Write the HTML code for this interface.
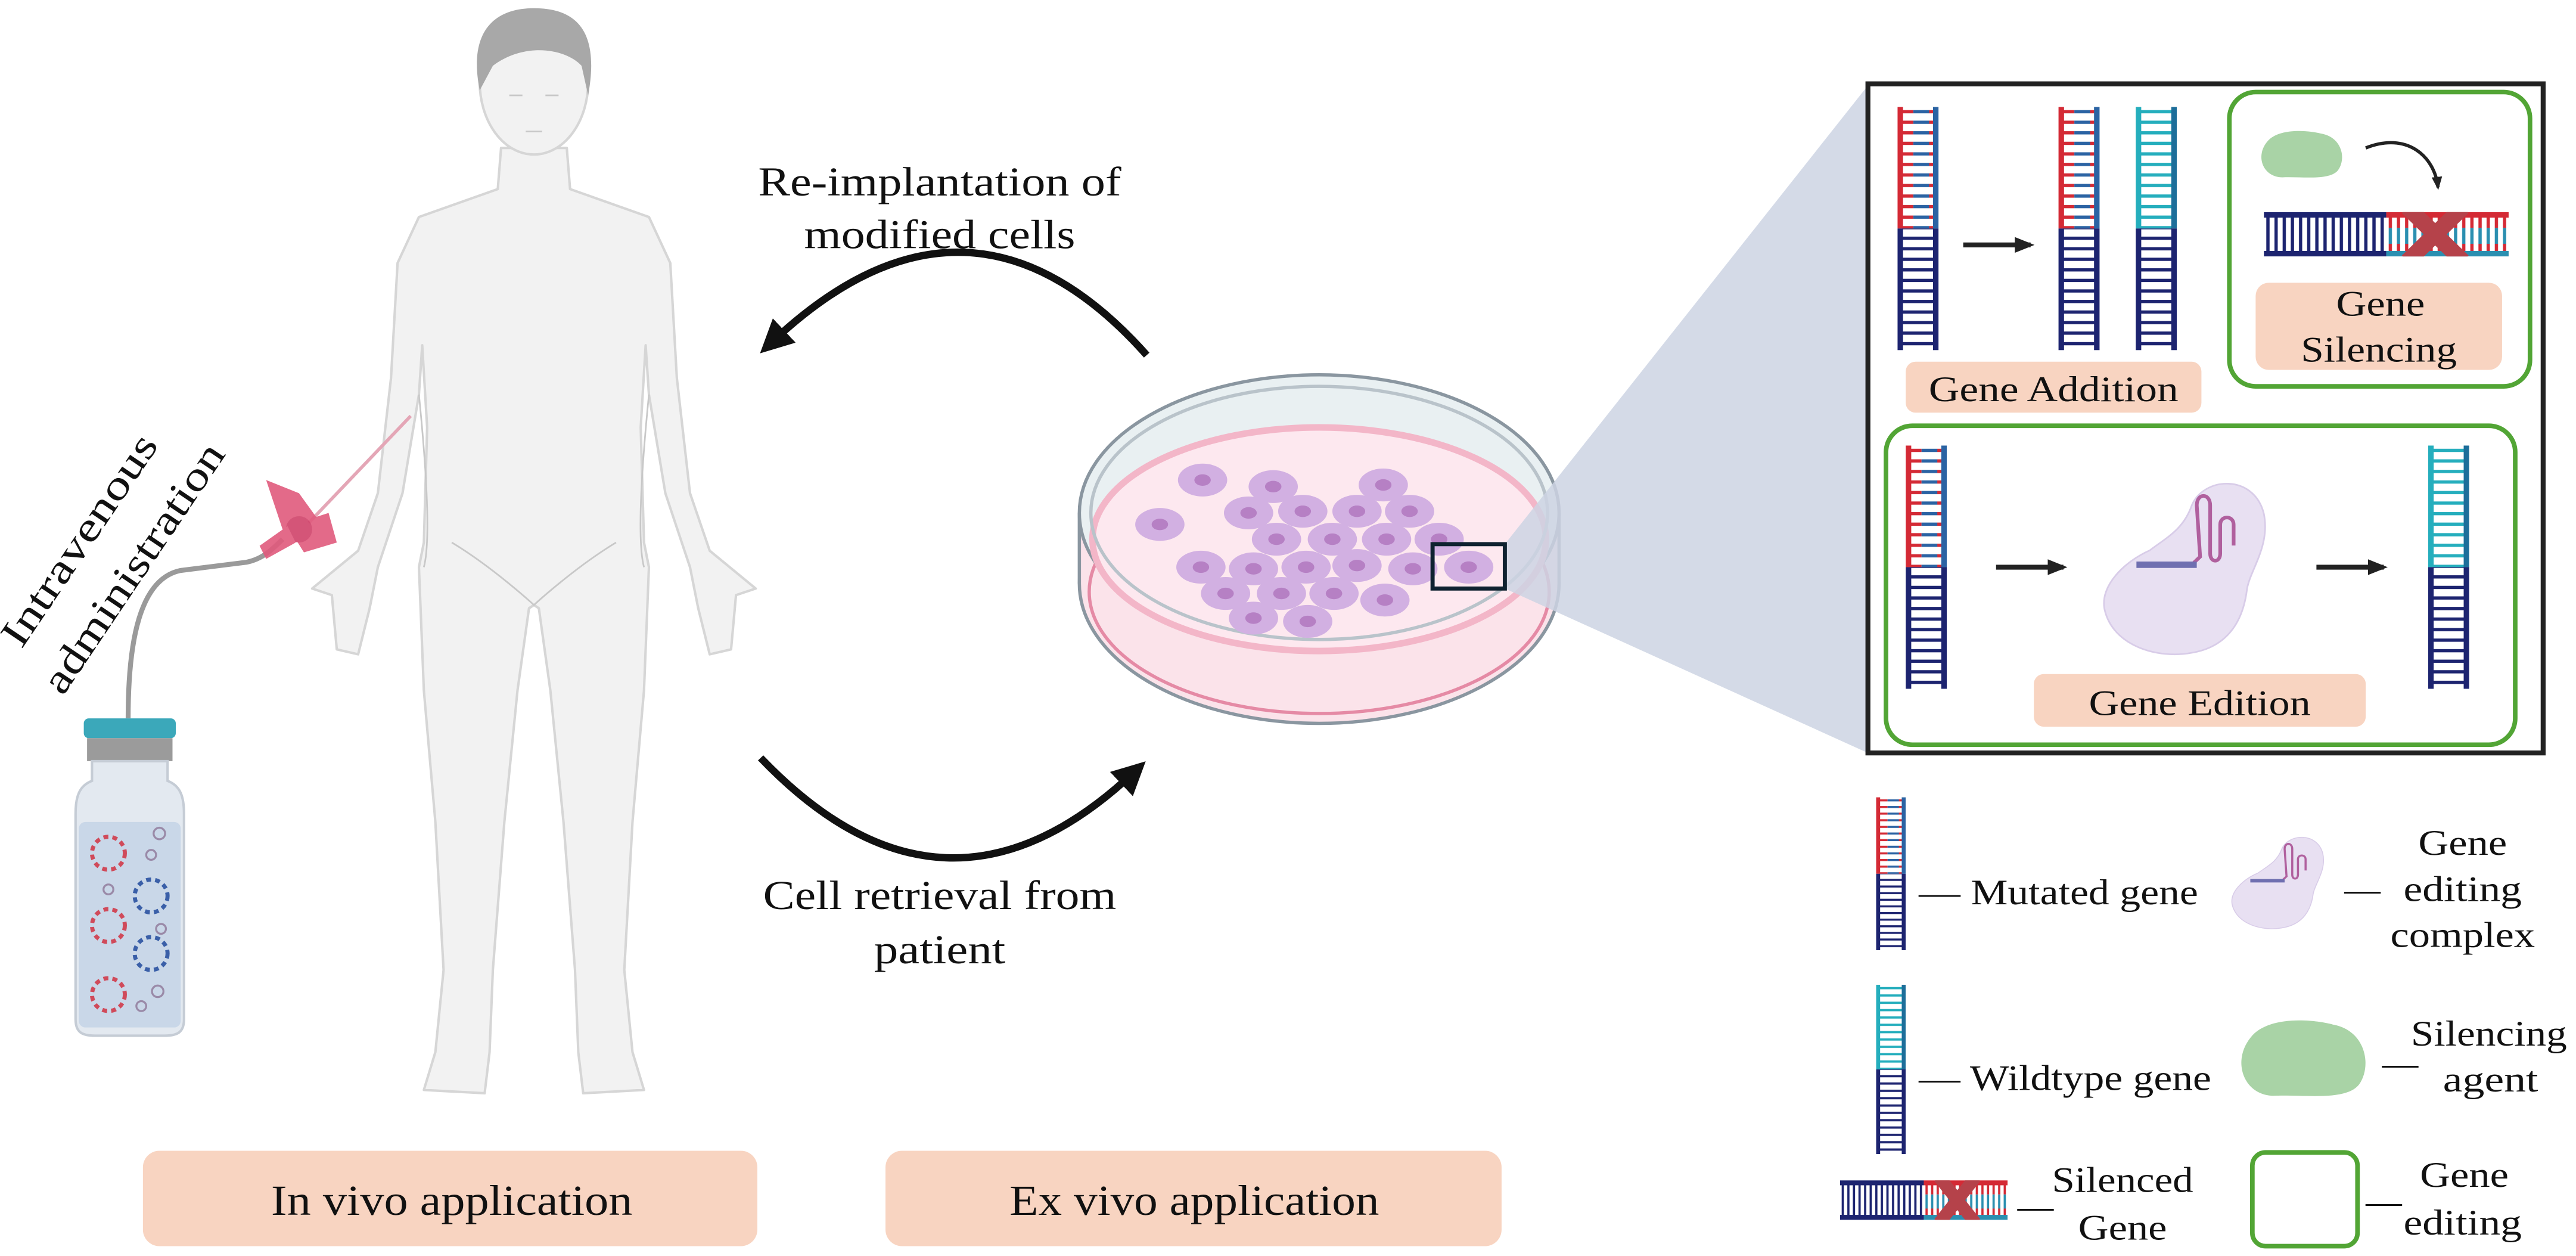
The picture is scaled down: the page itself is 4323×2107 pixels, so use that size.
<!DOCTYPE html>
<html><head><meta charset="utf-8">
<style>
html,body{margin:0;padding:0;background:#fff;}
svg{display:block;}
text{font-family:"Liberation Serif",serif;fill:#111;}
</style></head>
<body>
<svg width="4323" height="2107" viewBox="0 0 1568 764" preserveAspectRatio="none" xmlns="http://www.w3.org/2000/svg">
<defs>
  <pattern id="rR" width="20" height="6.5" patternUnits="userSpaceOnUse"><rect x="0" y="2" width="10" height="2" fill="#d42a35"/><rect x="10" y="2" width="10" height="2" fill="#2b63a3"/></pattern>
  <pattern id="rT" width="20" height="6.5" patternUnits="userSpaceOnUse"><rect x="0" y="2" width="20" height="2" fill="#25aebd"/></pattern>
  <pattern id="rN" width="20" height="6.5" patternUnits="userSpaceOnUse"><rect x="0" y="2" width="20" height="2" fill="#1d2470"/></pattern>
  <pattern id="hN" width="5" height="20" patternUnits="userSpaceOnUse"><rect x="1.5" y="0" width="2" height="20" fill="#1d2470"/></pattern>
  <pattern id="hR" width="5" height="20" patternUnits="userSpaceOnUse"><rect x="1.5" y="0" width="2" height="10" fill="#d42a35"/><rect x="1.5" y="10" width="2" height="10" fill="#2b8fb0"/></pattern>
  <symbol id="dnaM" viewBox="0 0 26 150" preserveAspectRatio="none">
    <rect x="3" y="0" width="20" height="75" fill="url(#rR)"/>
    <rect x="3" y="75" width="20" height="75" fill="url(#rN)"/>
    <rect x="0" y="0" width="3.5" height="75" fill="#d42a35"/><rect x="0" y="75" width="3.5" height="75" fill="#1d2470"/>
    <rect x="22.5" y="0" width="3.5" height="75" fill="#2b63a3"/><rect x="22.5" y="75" width="3.5" height="75" fill="#1d2470"/>
  </symbol>
  <symbol id="dnaW" viewBox="0 0 26 150" preserveAspectRatio="none">
    <rect x="3" y="0" width="20" height="75" fill="url(#rT)"/>
    <rect x="3" y="75" width="20" height="75" fill="url(#rN)"/>
    <rect x="0" y="0" width="3.5" height="75" fill="#25aebd"/><rect x="0" y="75" width="3.5" height="75" fill="#1d2470"/>
    <rect x="22.5" y="0" width="3.5" height="75" fill="#1d6e9a"/><rect x="22.5" y="75" width="3.5" height="75" fill="#1d2470"/>
  </symbol>
  <symbol id="dnaS" viewBox="0 0 150 28" preserveAspectRatio="none">
    <rect x="0" y="3" width="75" height="22" fill="url(#hN)"/>
    <rect x="75" y="3" width="75" height="22" fill="url(#hR)"/>
    <rect x="0" y="0" width="75" height="3.5" fill="#1d2470"/><rect x="75" y="0" width="75" height="3.5" fill="#d42a35"/>
    <rect x="0" y="24.5" width="75" height="3.5" fill="#1d2470"/><rect x="75" y="24.5" width="75" height="3.5" fill="#2b8fb0"/>
    <g transform="translate(105,14)"><rect x="-5" y="-24" width="10" height="48" fill="#b5424a" transform="rotate(45)"/><rect x="-5" y="-24" width="10" height="48" fill="#b5424a" transform="rotate(-45)"/></g>
  </symbol>
  <symbol id="cplx" viewBox="0 0 100 115" preserveAspectRatio="none">
    <path d="M30,48 C40,40 50,35 55,20 C62,2 92,0 98,25 C102,45 90,60 88,72 C86,90 78,108 55,112 C35,116 8,108 3,85 C0,70 15,55 30,48 Z" fill="#e8e0f2" stroke="#d8cce8" stroke-width="1"/>
    <path d="M25,57 L55,57 L60,52 L58,20 C58,12 66,12 66,20 L66,50 C66,56 72,56 72,50 L72,32 C72,26 80,26 80,32 L80,45" fill="none" stroke="#b0609e" stroke-width="2.2"/>
    <rect x="22" y="55" width="36" height="4" fill="#6f6fb0"/>
  </symbol>
  <symbol id="blob" viewBox="0 0 80 60" preserveAspectRatio="none">
    <path d="M8,15 C18,0 45,2 58,6 C78,10 82,35 74,48 C66,60 40,55 22,56 C4,56 -4,32 8,15 Z" fill="#a9d3a6"/>
  </symbol>
  <marker id="ah" viewBox="0 0 10 10" refX="5" refY="5" markerWidth="4.5" markerHeight="4.5" orient="auto-start-reverse"><path d="M0,0 L10,5 L0,10 Z" fill="#111"/></marker>
  <marker id="ah2" viewBox="0 0 10 10" refX="8" refY="5" markerWidth="4" markerHeight="4" orient="auto"><path d="M0,1 L10,5 L0,9 Z" fill="#222"/></marker>
</defs>

<!-- Human figure -->
<g stroke="#d6d6d6" stroke-width="1.5" fill="#f2f2f2" stroke-linejoin="round">
  <path d="M305,90 L303,115 L255,132 L242,160 L238,230 L230,300 L218,335 L190,358 L202,362 L205,395 L218,398 L225,370 L230,345 L245,300 L255,240 L257,210 L260,260 L258,330 L255,345 L258,420 L265,500 L270,590 L265,640 L258,663 L295,665 L298,640 L300,590 L307,500 L315,420 L322,370 L325,368 L328,370 L335,420 L343,500 L350,590 L352,640 L355,665 L392,663 L385,640 L380,590 L385,500 L392,420 L395,345 L392,330 L390,260 L393,210 L395,240 L405,300 L420,345 L425,370 L432,398 L445,395 L448,362 L460,358 L432,335 L420,300 L412,230 L408,160 L395,132 L347,115 L345,90 Z"/>
  <ellipse cx="325" cy="50" rx="33" ry="44"/>
</g>
<path d="M292,55 C285,20 300,5 325,5 C352,5 365,20 358,58 L354,40 C345,30 320,25 300,40 Z" fill="#a8a8a8"/>
<g stroke="#c8c8c8" stroke-width="1" fill="none">
  <path d="M310,58 l8,0 M332,58 l8,0 M320,80 l10,0"/>
  <path d="M255,240 C260,290 262,330 258,345 M395,240 C390,290 388,330 392,345 M275,330 C300,345 325,368 325,368 C325,368 350,345 375,330"/>
</g>

<!-- Vial -->
<path d="M78,437 C78,390 85,352 110,347 L150,342 C160,340 166,334 172,328" fill="none" stroke="#9a9a9a" stroke-width="3"/>
<line x1="188" y1="318" x2="250" y2="253" stroke="#e4a6b6" stroke-width="2"/>
<g fill="#e05a7d" opacity="0.9">
  <path d="M162,292 L182,300 L195,318 L172,322 Z"/>
  <path d="M175,320 L200,312 L205,330 L185,336 Z"/>
  <circle cx="182" cy="322" r="8" fill="#d0436a"/>
  <path d="M158,332 L175,320 L180,330 L162,340 Z"/>
</g>
<rect x="51" y="437" width="56" height="12" rx="3" fill="#3ba8ba"/>
<rect x="53" y="449" width="52" height="14" fill="#9b9b9b"/>
<path d="M56,463 L102,463 L102,475 C110,478 112,485 112,495 L112,620 C112,628 108,630 100,630 L58,630 C50,630 46,628 46,620 L46,495 C46,485 48,478 56,475 Z" fill="#e3e9f0" stroke="#c5ccd5" stroke-width="1.5"/>
<rect x="48" y="500" width="62" height="125" rx="4" fill="#c9d7e8"/>
<g fill="none" stroke-width="2.5" stroke-dasharray="3 2.5">
  <circle cx="66" cy="519" r="10" stroke="#d04a5a"/><circle cx="92" cy="545" r="10" stroke="#3a5fa8"/>
  <circle cx="66" cy="563" r="10" stroke="#d04a5a"/><circle cx="92" cy="580" r="10" stroke="#3a5fa8"/>
  <circle cx="66" cy="605" r="10" stroke="#d04a5a"/>
</g>
<g fill="none" stroke="#9a8aa8" stroke-width="1.2">
  <circle cx="97" cy="507" r="3.5"/><circle cx="92" cy="520" r="3"/><circle cx="66" cy="541" r="3"/><circle cx="98" cy="565" r="3"/><circle cx="96" cy="603" r="3.5"/><circle cx="86" cy="612" r="3"/>
</g>
<text transform="translate(55,333) rotate(-56)" font-size="25" text-anchor="middle" textLength="150" lengthAdjust="spacingAndGlyphs">Intravenous</text>
<text transform="translate(88,350) rotate(-56)" font-size="25" text-anchor="middle" textLength="178" lengthAdjust="spacingAndGlyphs">administration</text>

<!-- Arrows & texts -->
<path d="M698,216 Q590,95 470,208" fill="none" stroke="#111" stroke-width="4.5" marker-end="url(#ah)"/>
<path d="M463,461 Q575,578 690,470" fill="none" stroke="#111" stroke-width="4.5" marker-end="url(#ah)"/>
<text x="572" y="119" font-size="25" text-anchor="middle" textLength="221" lengthAdjust="spacingAndGlyphs">Re-implantation of</text>
<text x="572" y="151" font-size="25" text-anchor="middle" textLength="165" lengthAdjust="spacingAndGlyphs">modified cells</text>
<text x="572" y="553" font-size="25" text-anchor="middle" textLength="215" lengthAdjust="spacingAndGlyphs">Cell retrieval from</text>
<text x="572" y="586" font-size="25" text-anchor="middle" textLength="80" lengthAdjust="spacingAndGlyphs">patient</text>

<!-- Bottom labels -->
<rect x="87" y="700" width="374" height="58" rx="10" fill="#f8d4c1"/>
<rect x="539" y="700" width="375" height="58" rx="10" fill="#f8d4c1"/>
<text x="275" y="739" font-size="26" text-anchor="middle" textLength="220" lengthAdjust="spacingAndGlyphs">In vivo application</text>
<text x="727" y="739" font-size="26" text-anchor="middle" textLength="225" lengthAdjust="spacingAndGlyphs">Ex vivo application</text>

<!-- Petri dish -->
<ellipse cx="803" cy="355" rx="146" ry="85" fill="#fbe3ea" stroke="#8a96a0" stroke-width="2"/>
<rect x="657" y="312" width="292" height="43" fill="#fbe3ea"/>
<line x1="657" y1="312" x2="657" y2="355" stroke="#8a96a0" stroke-width="2"/>
<line x1="949" y1="312" x2="949" y2="355" stroke="#8a96a0" stroke-width="2"/>
<ellipse cx="803" cy="360" rx="140" ry="74" fill="none" stroke="#e58aa5" stroke-width="2"/>
<ellipse cx="803" cy="312" rx="146" ry="84" fill="#e9f0f2" stroke="#8a96a0" stroke-width="2"/>
<ellipse cx="803" cy="328" rx="138" ry="68" fill="#fde8ef" stroke="#f3b6c8" stroke-width="4"/>
<ellipse cx="803" cy="312" rx="139" ry="77" fill="none" stroke="#b9c3ca" stroke-width="2"/>
<g>
  <g fill="#d2b0e2"><ellipse cx="732" cy="292" rx="15" ry="10"/><ellipse cx="775" cy="296" rx="15" ry="10"/><ellipse cx="842" cy="295" rx="15" ry="10"/><ellipse cx="706" cy="319" rx="15" ry="10"/><ellipse cx="760" cy="312" rx="15" ry="10"/><ellipse cx="793" cy="311" rx="15" ry="10"/><ellipse cx="826" cy="311" rx="15" ry="10"/><ellipse cx="858" cy="311" rx="15" ry="10"/><ellipse cx="777" cy="328" rx="15" ry="10"/><ellipse cx="811" cy="328" rx="15" ry="10"/><ellipse cx="844" cy="328" rx="15" ry="10"/><ellipse cx="876" cy="328" rx="15" ry="10"/><ellipse cx="731" cy="345" rx="15" ry="10"/><ellipse cx="763" cy="346" rx="15" ry="10"/><ellipse cx="795" cy="345" rx="15" ry="10"/><ellipse cx="826" cy="344" rx="15" ry="10"/><ellipse cx="860" cy="346" rx="15" ry="10"/><ellipse cx="894" cy="345" rx="15" ry="10"/><ellipse cx="746" cy="361" rx="15" ry="10"/><ellipse cx="780" cy="361" rx="15" ry="10"/><ellipse cx="812" cy="361" rx="15" ry="10"/><ellipse cx="843" cy="365" rx="15" ry="10"/><ellipse cx="763" cy="376" rx="15" ry="10"/><ellipse cx="796" cy="378" rx="15" ry="10"/></g>
  <g fill="#b680c4"><ellipse cx="732" cy="292" rx="5" ry="3.5"/><ellipse cx="775" cy="296" rx="5" ry="3.5"/><ellipse cx="842" cy="295" rx="5" ry="3.5"/><ellipse cx="706" cy="319" rx="5" ry="3.5"/><ellipse cx="760" cy="312" rx="5" ry="3.5"/><ellipse cx="793" cy="311" rx="5" ry="3.5"/><ellipse cx="826" cy="311" rx="5" ry="3.5"/><ellipse cx="858" cy="311" rx="5" ry="3.5"/><ellipse cx="777" cy="328" rx="5" ry="3.5"/><ellipse cx="811" cy="328" rx="5" ry="3.5"/><ellipse cx="844" cy="328" rx="5" ry="3.5"/><ellipse cx="876" cy="328" rx="5" ry="3.5"/><ellipse cx="731" cy="345" rx="5" ry="3.5"/><ellipse cx="763" cy="346" rx="5" ry="3.5"/><ellipse cx="795" cy="345" rx="5" ry="3.5"/><ellipse cx="826" cy="344" rx="5" ry="3.5"/><ellipse cx="860" cy="346" rx="5" ry="3.5"/><ellipse cx="894" cy="345" rx="5" ry="3.5"/><ellipse cx="746" cy="361" rx="5" ry="3.5"/><ellipse cx="780" cy="361" rx="5" ry="3.5"/><ellipse cx="812" cy="361" rx="5" ry="3.5"/><ellipse cx="843" cy="365" rx="5" ry="3.5"/><ellipse cx="763" cy="376" rx="5" ry="3.5"/><ellipse cx="796" cy="378" rx="5" ry="3.5"/></g>
</g>
<polygon points="916,331 1137,52 1137,458 916,358" fill="#ccd4e3" opacity="0.85"/>
<rect x="872" y="331" width="44" height="27" fill="none" stroke="#0f2230" stroke-width="2.5"/>

<!-- Big box -->
<rect x="1137" y="51" width="411" height="407" fill="#fff" stroke="#222" stroke-width="3"/>
<rect x="1357" y="56" width="183" height="179" rx="16" fill="none" stroke="#52a535" stroke-width="2.8"/>
<rect x="1148" y="259" width="383" height="194" rx="16" fill="none" stroke="#52a535" stroke-width="2.8"/>
<use href="#dnaM" x="1155" y="65" width="25" height="148"/>
<use href="#dnaM" x="1253" y="65" width="25" height="148"/>
<use href="#dnaW" x="1300" y="65" width="25" height="148"/>
<line x1="1195" y1="149" x2="1236" y2="149" stroke="#222" stroke-width="3" marker-end="url(#ah2)"/>
<rect x="1160" y="220" width="180" height="31" rx="6" fill="#f8d4c1"/>
<text x="1250" y="244" font-size="22" text-anchor="middle" textLength="152" lengthAdjust="spacingAndGlyphs">Gene Addition</text>
<use href="#blob" x="1375" y="78" width="52" height="32"/>
<path d="M1440,90 C1465,80 1482,95 1484,114" fill="none" stroke="#222" stroke-width="2" marker-end="url(#ah2)"/>
<use href="#dnaS" x="1378" y="129" width="149" height="27"/>
<rect x="1373" y="172" width="150" height="53" rx="8" fill="#f8d4c1"/>
<text x="1449" y="192" font-size="22" text-anchor="middle" textLength="54" lengthAdjust="spacingAndGlyphs">Gene</text>
<text x="1448" y="220" font-size="22" text-anchor="middle" textLength="95" lengthAdjust="spacingAndGlyphs">Silencing</text>
<use href="#dnaM" x="1160" y="271" width="25" height="148"/>
<line x1="1215" y1="345" x2="1256" y2="345" stroke="#222" stroke-width="3" marker-end="url(#ah2)"/>
<use href="#cplx" x="1278" y="288" width="102" height="112"/>
<line x1="1410" y1="345" x2="1451" y2="345" stroke="#222" stroke-width="3" marker-end="url(#ah2)"/>
<use href="#dnaW" x="1478" y="271" width="25" height="148"/>
<rect x="1238" y="410" width="202" height="32" rx="6" fill="#f8d4c1"/>
<text x="1339" y="435" font-size="22" text-anchor="middle" textLength="135" lengthAdjust="spacingAndGlyphs">Gene Edition</text>

<!-- Legend -->
<use href="#dnaM" x="1142" y="485" width="18" height="93"/>
<text x="1168" y="550" font-size="22" textLength="170" lengthAdjust="spacingAndGlyphs">— Mutated gene</text>
<use href="#cplx" x="1357" y="506" width="58" height="60"/>
<text x="1427" y="548" font-size="22">—</text>
<text x="1499" y="520" font-size="22" text-anchor="middle" textLength="54" lengthAdjust="spacingAndGlyphs">Gene</text>
<text x="1499" y="548" font-size="22" text-anchor="middle" textLength="72" lengthAdjust="spacingAndGlyphs">editing</text>
<text x="1499" y="576" font-size="22" text-anchor="middle" textLength="88" lengthAdjust="spacingAndGlyphs">complex</text>
<use href="#dnaW" x="1142" y="599" width="18" height="103"/>
<text x="1168" y="663" font-size="22" textLength="178" lengthAdjust="spacingAndGlyphs">— Wildtype gene</text>
<use href="#blob" x="1362" y="618" width="80" height="52"/>
<text x="1450" y="654" font-size="22">—</text>
<text x="1515" y="636" font-size="22" text-anchor="middle" textLength="95" lengthAdjust="spacingAndGlyphs">Silencing</text>
<text x="1516" y="664" font-size="22" text-anchor="middle" textLength="58" lengthAdjust="spacingAndGlyphs">agent</text>
<use href="#dnaS" x="1120" y="718" width="102" height="24"/>
<text x="1228" y="741" font-size="22">—</text>
<text x="1292" y="725" font-size="22" text-anchor="middle" textLength="86" lengthAdjust="spacingAndGlyphs">Silenced</text>
<text x="1292" y="754" font-size="22" text-anchor="middle" textLength="54" lengthAdjust="spacingAndGlyphs">Gene</text>
<rect x="1371" y="701" width="64" height="57" rx="8" fill="none" stroke="#52a535" stroke-width="2.8"/>
<text x="1440" y="738" font-size="22">—</text>
<text x="1500" y="722" font-size="22" text-anchor="middle" textLength="54" lengthAdjust="spacingAndGlyphs">Gene</text>
<text x="1499" y="751" font-size="22" text-anchor="middle" textLength="72" lengthAdjust="spacingAndGlyphs">editing</text>
</svg>
</body></html>
